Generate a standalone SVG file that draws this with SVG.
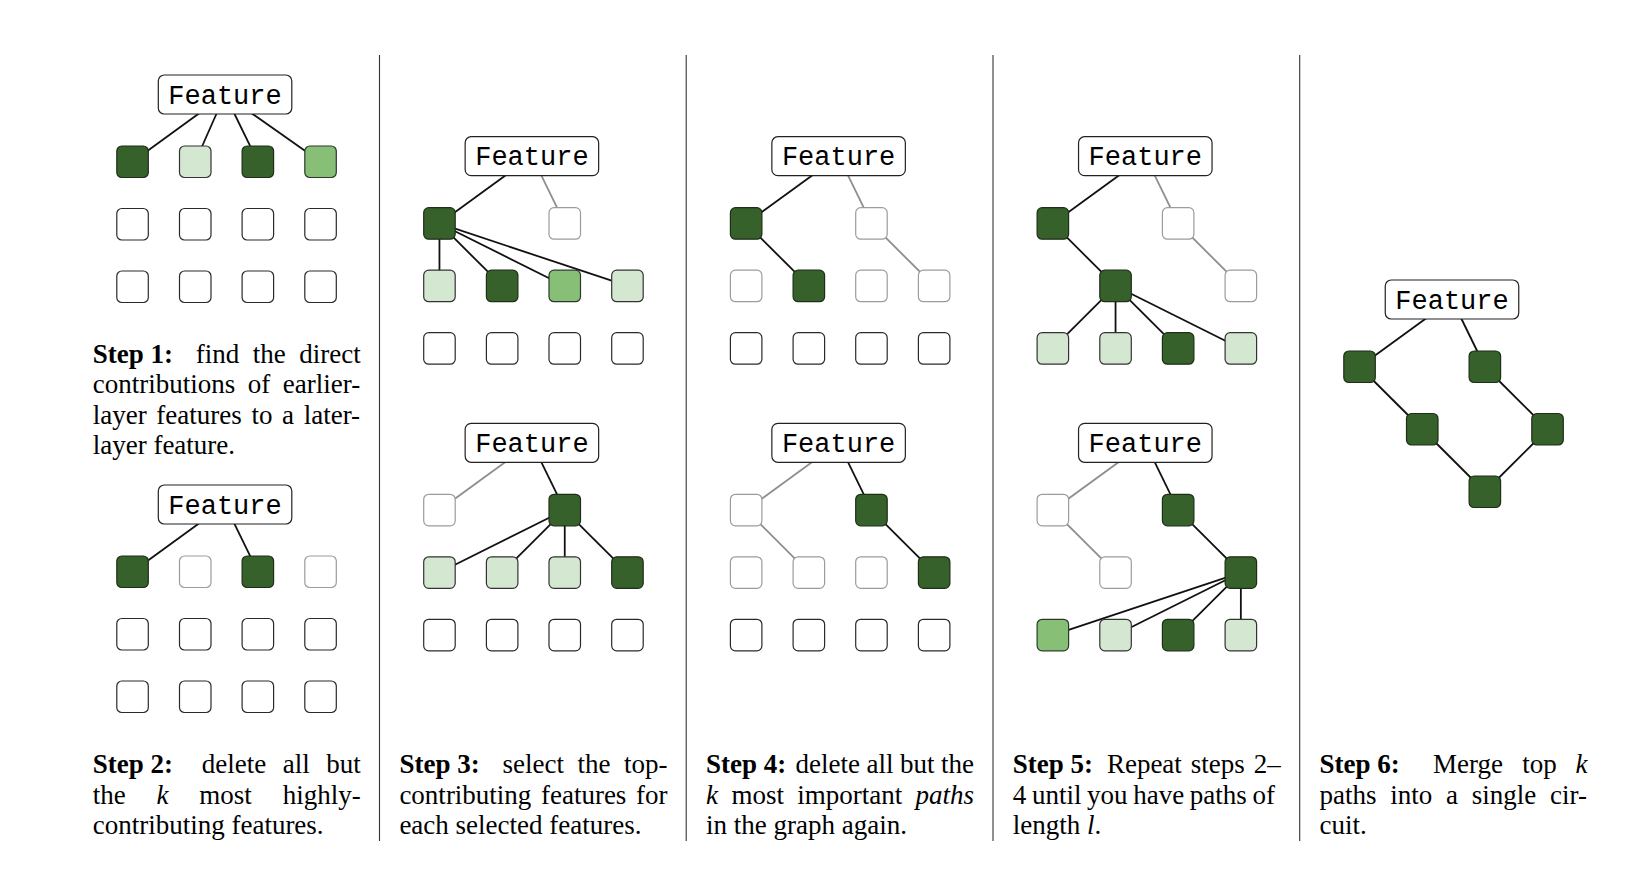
<svg xmlns="http://www.w3.org/2000/svg" width="1636" height="874" viewBox="0 0 1636 874">
<style>
.bg{fill:#fff}
.dv{stroke:#333;stroke-width:1.1;fill:none}
.e{stroke:#111;stroke-width:1.8;fill:none}
.g{stroke:#8e8e8e;stroke-width:1.8;fill:none}
.box{fill:#fff;stroke:#222;stroke-width:1.2}
.ft{font-family:"Liberation Mono","DejaVu Sans Mono",monospace;font-size:27px;fill:#000;text-anchor:middle}
.dk{fill:#37612a;stroke:#1e2e18;stroke-width:1.2}
.md{fill:#87bf77;stroke:#2b3a28;stroke-width:1.2}
.lt{fill:#d4e7d0;stroke:#333;stroke-width:1.2}
.wh{fill:#fff;stroke:#2a2a2a;stroke-width:1.2}
.fd{fill:#fff;stroke:#9c9c9c;stroke-width:1.2}
.t{font-family:"Liberation Serif","Times New Roman",serif;font-size:27px;fill:#000}
.b{font-weight:bold}
.i{font-style:italic}
</style>
<rect class="bg" x="0" y="0" width="1636" height="874"/>

<g id="dividers">
<line class="dv" x1="379.5" y1="55" x2="379.5" y2="841"/>
<line class="dv" x1="686.2" y1="55" x2="686.2" y2="841"/>
<line class="dv" x1="993" y1="55" x2="993" y2="841"/>
<line class="dv" x1="1299.7" y1="55" x2="1299.7" y2="841"/>
</g>

<g id="connectors">
<!-- P1 top -->
<line class="e" x1="225" y1="94.5" x2="132.55" y2="161.75"/>
<line class="e" x1="225" y1="94.5" x2="195.25" y2="161.75"/>
<line class="e" x1="225" y1="94.5" x2="257.85" y2="161.75"/>
<line class="e" x1="225" y1="94.5" x2="320.55" y2="161.75"/>
<!-- P1 bottom -->
<line class="e" x1="225" y1="504.5" x2="132.55" y2="571.75"/>
<line class="e" x1="225" y1="504.5" x2="257.85" y2="571.75"/>
<!-- P2 top -->
<line class="e" x1="531.9" y1="156.2" x2="439.45" y2="223.45"/>
<line class="g" x1="531.9" y1="156.2" x2="564.75" y2="223.45"/>
<line class="e" x1="439.45" y1="223.45" x2="439.45" y2="285.95"/>
<line class="e" x1="439.45" y1="223.45" x2="502.15" y2="285.95"/>
<line class="e" x1="439.45" y1="223.45" x2="564.75" y2="285.95"/>
<line class="e" x1="439.45" y1="223.45" x2="627.45" y2="285.95"/>
<!-- P2 bottom -->
<line class="g" x1="531.9" y1="442.8" x2="439.45" y2="510.05"/>
<line class="e" x1="531.9" y1="442.8" x2="564.75" y2="510.05"/>
<line class="e" x1="564.75" y1="510.05" x2="439.45" y2="572.55"/>
<line class="e" x1="564.75" y1="510.05" x2="502.15" y2="572.55"/>
<line class="e" x1="564.75" y1="510.05" x2="564.75" y2="572.55"/>
<line class="e" x1="564.75" y1="510.05" x2="627.45" y2="572.55"/>
<!-- P3 top -->
<line class="e" x1="838.6" y1="156.2" x2="746.15" y2="223.45"/>
<line class="g" x1="838.6" y1="156.2" x2="871.45" y2="223.45"/>
<line class="e" x1="746.15" y1="223.45" x2="808.85" y2="285.95"/>
<line class="g" x1="871.45" y1="223.45" x2="934.15" y2="285.95"/>
<!-- P3 bottom -->
<line class="g" x1="838.6" y1="442.8" x2="746.15" y2="510.05"/>
<line class="e" x1="838.6" y1="442.8" x2="871.45" y2="510.05"/>
<line class="g" x1="746.15" y1="510.05" x2="808.85" y2="572.55"/>
<line class="e" x1="871.45" y1="510.05" x2="934.15" y2="572.55"/>
<!-- P4 top -->
<line class="e" x1="1145.3" y1="156.2" x2="1052.85" y2="223.45"/>
<line class="g" x1="1145.3" y1="156.2" x2="1178.15" y2="223.45"/>
<line class="e" x1="1052.85" y1="223.45" x2="1115.55" y2="285.95"/>
<line class="g" x1="1178.15" y1="223.45" x2="1240.85" y2="285.95"/>
<line class="e" x1="1115.55" y1="285.95" x2="1052.85" y2="348.45"/>
<line class="e" x1="1115.55" y1="285.95" x2="1115.55" y2="348.45"/>
<line class="e" x1="1115.55" y1="285.95" x2="1178.15" y2="348.45"/>
<line class="e" x1="1115.55" y1="285.95" x2="1240.85" y2="348.45"/>
<!-- P4 bottom -->
<line class="g" x1="1145.3" y1="442.8" x2="1052.85" y2="510.05"/>
<line class="e" x1="1145.3" y1="442.8" x2="1178.15" y2="510.05"/>
<line class="g" x1="1052.85" y1="510.05" x2="1115.55" y2="572.55"/>
<line class="e" x1="1178.15" y1="510.05" x2="1240.85" y2="572.55"/>
<line class="e" x1="1240.85" y1="572.55" x2="1052.85" y2="635.05"/>
<line class="e" x1="1240.85" y1="572.55" x2="1115.55" y2="635.05"/>
<line class="e" x1="1240.85" y1="572.55" x2="1178.15" y2="635.05"/>
<line class="e" x1="1240.85" y1="572.55" x2="1240.85" y2="635.05"/>
<!-- P5 -->
<line class="e" x1="1452" y1="299.5" x2="1359.55" y2="366.75"/>
<line class="e" x1="1452" y1="299.5" x2="1484.85" y2="366.75"/>
<line class="e" x1="1359.55" y1="366.75" x2="1422.25" y2="429.25"/>
<line class="e" x1="1484.85" y1="366.75" x2="1547.55" y2="429.25"/>
<line class="e" x1="1422.25" y1="429.25" x2="1484.85" y2="491.75"/>
<line class="e" x1="1547.55" y1="429.25" x2="1484.85" y2="491.75"/>
</g>

<!-- Panel 1 top -->
<g id="p1a-feature"><rect class="box" x="158.3" y="75" width="133.5" height="39" rx="6"/><text class="ft" x="225" y="103.5">Feature</text></g>
<g id="p1a-r1c1"><rect class="dk" x="116.8" y="146" width="31.5" height="31.5" rx="5"/></g>
<g id="p1a-r1c2"><rect class="lt" x="179.5" y="146" width="31.5" height="31.5" rx="5"/></g>
<g id="p1a-r1c3"><rect class="dk" x="242.1" y="146" width="31.5" height="31.5" rx="5"/></g>
<g id="p1a-r1c4"><rect class="md" x="304.8" y="146" width="31.5" height="31.5" rx="5"/></g>
<g id="p1a-r2c1"><rect class="wh" x="116.8" y="208.5" width="31.5" height="31.5" rx="5"/></g>
<g id="p1a-r2c2"><rect class="wh" x="179.5" y="208.5" width="31.5" height="31.5" rx="5"/></g>
<g id="p1a-r2c3"><rect class="wh" x="242.1" y="208.5" width="31.5" height="31.5" rx="5"/></g>
<g id="p1a-r2c4"><rect class="wh" x="304.8" y="208.5" width="31.5" height="31.5" rx="5"/></g>
<g id="p1a-r3c1"><rect class="wh" x="116.8" y="271" width="31.5" height="31.5" rx="5"/></g>
<g id="p1a-r3c2"><rect class="wh" x="179.5" y="271" width="31.5" height="31.5" rx="5"/></g>
<g id="p1a-r3c3"><rect class="wh" x="242.1" y="271" width="31.5" height="31.5" rx="5"/></g>
<g id="p1a-r3c4"><rect class="wh" x="304.8" y="271" width="31.5" height="31.5" rx="5"/></g>

<!-- Panel 1 bottom -->
<g id="p1b-feature"><rect class="box" x="158.3" y="485" width="133.5" height="39" rx="6"/><text class="ft" x="225" y="513.5">Feature</text></g>
<g id="p1b-r1c1"><rect class="dk" x="116.8" y="556" width="31.5" height="31.5" rx="5"/></g>
<g id="p1b-r1c2"><rect class="fd" x="179.5" y="556" width="31.5" height="31.5" rx="5"/></g>
<g id="p1b-r1c3"><rect class="dk" x="242.1" y="556" width="31.5" height="31.5" rx="5"/></g>
<g id="p1b-r1c4"><rect class="fd" x="304.8" y="556" width="31.5" height="31.5" rx="5"/></g>
<g id="p1b-r2c1"><rect class="wh" x="116.8" y="618.5" width="31.5" height="31.5" rx="5"/></g>
<g id="p1b-r2c2"><rect class="wh" x="179.5" y="618.5" width="31.5" height="31.5" rx="5"/></g>
<g id="p1b-r2c3"><rect class="wh" x="242.1" y="618.5" width="31.5" height="31.5" rx="5"/></g>
<g id="p1b-r2c4"><rect class="wh" x="304.8" y="618.5" width="31.5" height="31.5" rx="5"/></g>
<g id="p1b-r3c1"><rect class="wh" x="116.8" y="681" width="31.5" height="31.5" rx="5"/></g>
<g id="p1b-r3c2"><rect class="wh" x="179.5" y="681" width="31.5" height="31.5" rx="5"/></g>
<g id="p1b-r3c3"><rect class="wh" x="242.1" y="681" width="31.5" height="31.5" rx="5"/></g>
<g id="p1b-r3c4"><rect class="wh" x="304.8" y="681" width="31.5" height="31.5" rx="5"/></g>

<!-- Panel 2 top -->
<g id="p2a-feature"><rect class="box" x="465.15" y="136.7" width="133.5" height="39" rx="6"/><text class="ft" x="531.9" y="165.2">Feature</text></g>
<g id="p2a-r1c1"><rect class="dk" x="423.7" y="207.7" width="31.5" height="31.5" rx="5"/></g>
<g id="p2a-r1c3"><rect class="fd" x="549" y="207.7" width="31.5" height="31.5" rx="5"/></g>
<g id="p2a-r2c1"><rect class="lt" x="423.7" y="270.2" width="31.5" height="31.5" rx="5"/></g>
<g id="p2a-r2c2"><rect class="dk" x="486.4" y="270.2" width="31.5" height="31.5" rx="5"/></g>
<g id="p2a-r2c3"><rect class="md" x="549" y="270.2" width="31.5" height="31.5" rx="5"/></g>
<g id="p2a-r2c4"><rect class="lt" x="611.7" y="270.2" width="31.5" height="31.5" rx="5"/></g>
<g id="p2a-r3c1"><rect class="wh" x="423.7" y="332.7" width="31.5" height="31.5" rx="5"/></g>
<g id="p2a-r3c2"><rect class="wh" x="486.4" y="332.7" width="31.5" height="31.5" rx="5"/></g>
<g id="p2a-r3c3"><rect class="wh" x="549" y="332.7" width="31.5" height="31.5" rx="5"/></g>
<g id="p2a-r3c4"><rect class="wh" x="611.7" y="332.7" width="31.5" height="31.5" rx="5"/></g>

<!-- Panel 2 bottom -->
<g id="p2b-feature"><rect class="box" x="465.15" y="423.3" width="133.5" height="39" rx="6"/><text class="ft" x="531.9" y="451.8">Feature</text></g>
<g id="p2b-r1c1"><rect class="fd" x="423.7" y="494.3" width="31.5" height="31.5" rx="5"/></g>
<g id="p2b-r1c3"><rect class="dk" x="549" y="494.3" width="31.5" height="31.5" rx="5"/></g>
<g id="p2b-r2c1"><rect class="lt" x="423.7" y="556.8" width="31.5" height="31.5" rx="5"/></g>
<g id="p2b-r2c2"><rect class="lt" x="486.4" y="556.8" width="31.5" height="31.5" rx="5"/></g>
<g id="p2b-r2c3"><rect class="lt" x="549" y="556.8" width="31.5" height="31.5" rx="5"/></g>
<g id="p2b-r2c4"><rect class="dk" x="611.7" y="556.8" width="31.5" height="31.5" rx="5"/></g>
<g id="p2b-r3c1"><rect class="wh" x="423.7" y="619.3" width="31.5" height="31.5" rx="5"/></g>
<g id="p2b-r3c2"><rect class="wh" x="486.4" y="619.3" width="31.5" height="31.5" rx="5"/></g>
<g id="p2b-r3c3"><rect class="wh" x="549" y="619.3" width="31.5" height="31.5" rx="5"/></g>
<g id="p2b-r3c4"><rect class="wh" x="611.7" y="619.3" width="31.5" height="31.5" rx="5"/></g>

<!-- Panel 3 top -->
<g id="p3a-feature"><rect class="box" x="771.85" y="136.7" width="133.5" height="39" rx="6"/><text class="ft" x="838.6" y="165.2">Feature</text></g>
<g id="p3a-r1c1"><rect class="dk" x="730.4" y="207.7" width="31.5" height="31.5" rx="5"/></g>
<g id="p3a-r1c3"><rect class="fd" x="855.7" y="207.7" width="31.5" height="31.5" rx="5"/></g>
<g id="p3a-r2c1"><rect class="fd" x="730.4" y="270.2" width="31.5" height="31.5" rx="5"/></g>
<g id="p3a-r2c2"><rect class="dk" x="793.1" y="270.2" width="31.5" height="31.5" rx="5"/></g>
<g id="p3a-r2c3"><rect class="fd" x="855.7" y="270.2" width="31.5" height="31.5" rx="5"/></g>
<g id="p3a-r2c4"><rect class="fd" x="918.4" y="270.2" width="31.5" height="31.5" rx="5"/></g>
<g id="p3a-r3c1"><rect class="wh" x="730.4" y="332.7" width="31.5" height="31.5" rx="5"/></g>
<g id="p3a-r3c2"><rect class="wh" x="793.1" y="332.7" width="31.5" height="31.5" rx="5"/></g>
<g id="p3a-r3c3"><rect class="wh" x="855.7" y="332.7" width="31.5" height="31.5" rx="5"/></g>
<g id="p3a-r3c4"><rect class="wh" x="918.4" y="332.7" width="31.5" height="31.5" rx="5"/></g>

<!-- Panel 3 bottom -->
<g id="p3b-feature"><rect class="box" x="771.85" y="423.3" width="133.5" height="39" rx="6"/><text class="ft" x="838.6" y="451.8">Feature</text></g>
<g id="p3b-r1c1"><rect class="fd" x="730.4" y="494.3" width="31.5" height="31.5" rx="5"/></g>
<g id="p3b-r1c3"><rect class="dk" x="855.7" y="494.3" width="31.5" height="31.5" rx="5"/></g>
<g id="p3b-r2c1"><rect class="fd" x="730.4" y="556.8" width="31.5" height="31.5" rx="5"/></g>
<g id="p3b-r2c2"><rect class="fd" x="793.1" y="556.8" width="31.5" height="31.5" rx="5"/></g>
<g id="p3b-r2c3"><rect class="fd" x="855.7" y="556.8" width="31.5" height="31.5" rx="5"/></g>
<g id="p3b-r2c4"><rect class="dk" x="918.4" y="556.8" width="31.5" height="31.5" rx="5"/></g>
<g id="p3b-r3c1"><rect class="wh" x="730.4" y="619.3" width="31.5" height="31.5" rx="5"/></g>
<g id="p3b-r3c2"><rect class="wh" x="793.1" y="619.3" width="31.5" height="31.5" rx="5"/></g>
<g id="p3b-r3c3"><rect class="wh" x="855.7" y="619.3" width="31.5" height="31.5" rx="5"/></g>
<g id="p3b-r3c4"><rect class="wh" x="918.4" y="619.3" width="31.5" height="31.5" rx="5"/></g>

<!-- Panel 4 top -->
<g id="p4a-feature"><rect class="box" x="1078.55" y="136.7" width="133.5" height="39" rx="6"/><text class="ft" x="1145.3" y="165.2">Feature</text></g>
<g id="p4a-r1c1"><rect class="dk" x="1037.1" y="207.7" width="31.5" height="31.5" rx="5"/></g>
<g id="p4a-r1c3"><rect class="fd" x="1162.4" y="207.7" width="31.5" height="31.5" rx="5"/></g>
<g id="p4a-r2c2"><rect class="dk" x="1099.8" y="270.2" width="31.5" height="31.5" rx="5"/></g>
<g id="p4a-r2c4"><rect class="fd" x="1225.1" y="270.2" width="31.5" height="31.5" rx="5"/></g>
<g id="p4a-r3c1"><rect class="lt" x="1037.1" y="332.7" width="31.5" height="31.5" rx="5"/></g>
<g id="p4a-r3c2"><rect class="lt" x="1099.8" y="332.7" width="31.5" height="31.5" rx="5"/></g>
<g id="p4a-r3c3"><rect class="dk" x="1162.4" y="332.7" width="31.5" height="31.5" rx="5"/></g>
<g id="p4a-r3c4"><rect class="lt" x="1225.1" y="332.7" width="31.5" height="31.5" rx="5"/></g>

<!-- Panel 4 bottom -->
<g id="p4b-feature"><rect class="box" x="1078.55" y="423.3" width="133.5" height="39" rx="6"/><text class="ft" x="1145.3" y="451.8">Feature</text></g>
<g id="p4b-r1c1"><rect class="fd" x="1037.1" y="494.3" width="31.5" height="31.5" rx="5"/></g>
<g id="p4b-r1c3"><rect class="dk" x="1162.4" y="494.3" width="31.5" height="31.5" rx="5"/></g>
<g id="p4b-r2c2"><rect class="fd" x="1099.8" y="556.8" width="31.5" height="31.5" rx="5"/></g>
<g id="p4b-r2c4"><rect class="dk" x="1225.1" y="556.8" width="31.5" height="31.5" rx="5"/></g>
<g id="p4b-r3c1"><rect class="md" x="1037.1" y="619.3" width="31.5" height="31.5" rx="5"/></g>
<g id="p4b-r3c2"><rect class="lt" x="1099.8" y="619.3" width="31.5" height="31.5" rx="5"/></g>
<g id="p4b-r3c3"><rect class="dk" x="1162.4" y="619.3" width="31.5" height="31.5" rx="5"/></g>
<g id="p4b-r3c4"><rect class="lt" x="1225.1" y="619.3" width="31.5" height="31.5" rx="5"/></g>

<!-- Panel 5 -->
<g id="p5-feature"><rect class="box" x="1385.25" y="280" width="133.5" height="39" rx="6"/><text class="ft" x="1452" y="308.5">Feature</text></g>
<g id="p5-r1c1"><rect class="dk" x="1343.8" y="351" width="31.5" height="31.5" rx="5"/></g>
<g id="p5-r1c3"><rect class="dk" x="1469.1" y="351" width="31.5" height="31.5" rx="5"/></g>
<g id="p5-r2c2"><rect class="dk" x="1406.5" y="413.5" width="31.5" height="31.5" rx="5"/></g>
<g id="p5-r2c4"><rect class="dk" x="1531.8" y="413.5" width="31.5" height="31.5" rx="5"/></g>
<g id="p5-r3c3"><rect class="dk" x="1469.1" y="476" width="31.5" height="31.5" rx="5"/></g>

<!-- Captions -->
<g id="caption-step1">
<text class="t" y="362.5"><tspan class="b" x="92.7">Step 1:</tspan><tspan x="195.8">find</tspan><tspan x="252.8">the</tspan><tspan x="299.2">direct</tspan></text>
<text class="t" y="393"><tspan x="92.7">contributions</tspan><tspan x="247.7">of</tspan><tspan x="282.75">earlier-</tspan></text>
<text class="t" y="423.5"><tspan x="92.7">layer</tspan><tspan x="156.3">features</tspan><tspan x="251.4">to</tspan><tspan x="282.1">a</tspan><tspan x="303.7">later-</tspan></text>
<text class="t" x="92.7" y="454">layer feature.</text>
</g>
<g id="caption-step2">
<text class="t" y="773"><tspan class="b" x="92.7">Step 2:</tspan><tspan x="201.8">delete</tspan><tspan x="282.7">all</tspan><tspan x="326.2">but</tspan></text>
<text class="t" y="803.5"><tspan x="92.7">the</tspan><tspan class="i" x="156.5">k</tspan><tspan x="199.3">most</tspan><tspan x="282.7">highly-</tspan></text>
<text class="t" x="92.7" y="834">contributing features.</text>
</g>
<g id="caption-step3">
<text class="t" y="773"><tspan class="b" x="399.4">Step 3:</tspan><tspan x="502.5">select</tspan><tspan x="577.4">the</tspan><tspan x="623.9">top-</tspan></text>
<text class="t" y="803.5"><tspan x="399.4">contributing</tspan><tspan x="540.95">features</tspan><tspan x="635.9">for</tspan></text>
<text class="t" x="399.4" y="834">each selected features.</text>
</g>
<g id="caption-step4">
<text class="t" y="773"><tspan class="b" x="706.1">Step 4:</tspan><tspan x="795.6">delete</tspan><tspan x="866.6">all</tspan><tspan x="900.1">but</tspan><tspan x="941.1">the</tspan></text>
<text class="t" y="803.5"><tspan class="i" x="706.1">k</tspan><tspan x="731.4">most</tspan><tspan x="797.2">important</tspan><tspan class="i" x="915.5">paths</tspan></text>
<text class="t" x="706.1" y="834">in the graph again.</text>
</g>
<g id="caption-step5">
<text class="t" y="773"><tspan class="b" x="1012.8">Step 5:</tspan><tspan x="1106.9">Repeat</tspan><tspan x="1190.8">steps</tspan><tspan x="1253.8">2–</tspan></text>
<text class="t" x="1012.8" y="803.5" style="word-spacing:-1.1px">4 until you have paths of</text>
<text class="t" x="1012.8" y="834">length <tspan class="i">l</tspan>.</text>
</g>
<g id="caption-step6">
<text class="t" y="773"><tspan class="b" x="1319.5">Step 6:</tspan><tspan x="1433.1">Merge</tspan><tspan x="1522.3">top</tspan><tspan class="i" x="1575.5">k</tspan></text>
<text class="t" y="803.5"><tspan x="1319.5">paths</tspan><tspan x="1390.25">into</tspan><tspan x="1446">a</tspan><tspan x="1471.7">single</tspan><tspan x="1550">cir-</tspan></text>
<text class="t" x="1319.5" y="834">cuit.</text>
</g>
</svg>
